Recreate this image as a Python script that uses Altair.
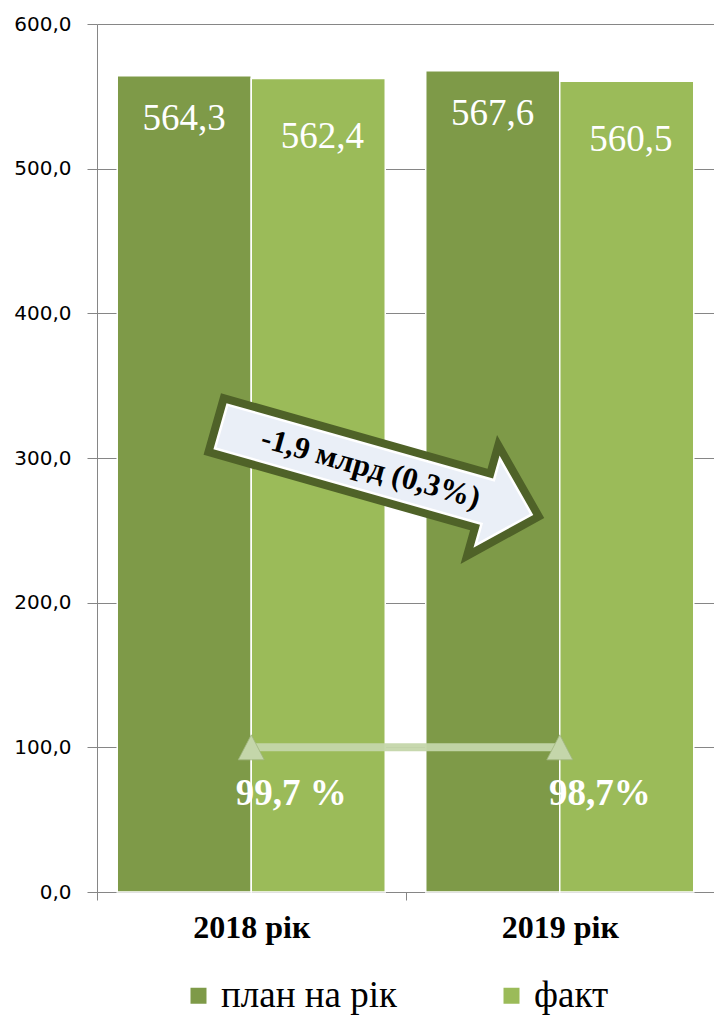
import math
import altair as alt
import pandas as pd

# ---------------- data ----------------
years = ["2018 рік", "2019 рік"]
series = ["план на рік", "факт"]
plan_values = [564.3, 567.6]
fact_values = [562.4, 560.5]
plan_labels = ["564,3", "567,6"]
fact_labels = ["562,4", "560,5"]
pct_labels = ["99,7 %", "98,7%"]
pct_level = [100, 100]
arrow_text = ["-1,9 млрд (0,3%)"]
arrow_level = [291]
y_ticks = [0, 100, 200, 300, 400, 500, 600]

colors = ["#7E9A48", "#9BBB59"]

rows = []
for i, yr in enumerate(years):
    rows.append({"year": yr, "series": series[0], "value": plan_values[i], "label": plan_labels[i]})
    rows.append({"year": yr, "series": series[1], "value": fact_values[i], "label": fact_labels[i]})
bars_df = pd.DataFrame(rows)
pct_df = pd.DataFrame({"year": years, "value": pct_level, "label": pct_labels})
arrow_df = pd.DataFrame({"year": [years[0]], "value": arrow_level, "label": arrow_text})

# ---------------- arrow symbol shape (pixel units, size=4) ----------------
HL = 172.5   # half length
T = 32.0     # shaft half thickness
H = 67.0     # head half width
HB = 104.5   # head base x
arrow_poly = [(-HL, -T), (HB, -T), (HB, -H), (HL, 0), (HB, H), (HB, T), (-HL, T)]


def inset(poly, d):
    n = len(poly)
    lines = []
    for i in range(n):
        p = poly[i]
        q = poly[(i + 1) % n]
        dx, dy = q[0] - p[0], q[1] - p[1]
        L = math.hypot(dx, dy)
        nx, ny = -dy / L, dx / L
        lines.append(((p[0] + nx * d, p[1] + ny * d), (dx, dy)))
    out = []
    for i in range(n):
        (p1, d1) = lines[i - 1]
        (p2, d2) = lines[i]
        det = -d1[0] * d2[1] + d1[1] * d2[0]
        t = ((p2[0] - p1[0]) * (-d2[1]) - (p2[1] - p1[1]) * (-d2[0])) / det
        out.append((p1[0] + t * d1[0], p1[1] + t * d1[1]))
    return out


def to_path(poly):
    return "M" + "L".join(f"{x:.2f},{y:.2f}" for x, y in poly) + "Z"


path_outer = to_path(arrow_poly)
path_white = to_path(inset(arrow_poly, 8))
path_inner = to_path(inset(arrow_poly, 10.5))
tri_path = "M-13,12.5L0,-12.5L13,12.5Z"
ARROW_ANGLE = 15.8
ARROW_DX = 127

# ---------------- encodings ----------------
x_enc = alt.X(
    "year:N",
    sort=years,
    scale=alt.Scale(paddingInner=0, paddingOuter=0),
    axis=alt.Axis(
        title=None,
        labelAngle=0,
        tickBand="extent",
        labelFont="Liberation Serif",
        labelFontSize=32,
        labelFontWeight="bold",
        labelColor="black",
        labelPadding=12,
        domainColor="#868686",
        tickColor="#868686",
        tickSize=8,
        grid=False,
    ),
)
y_enc = alt.Y(
    "value:Q",
    scale=alt.Scale(domain=[0, 600], nice=False, zero=True),
    axis=alt.Axis(
        title=None,
        values=y_ticks,
        labelExpr="replace(format(datum.value, '.1f'), '.', ',')",
        labelFont="DejaVu Sans",
        labelFontSize=20,
        labelColor="black",
        labelPadding=16,
        tickSize=10,
        tickColor="#868686",
        domainColor="#868686",
        gridColor="#868686",
        gridWidth=1,
        grid=True,
    ),
)
xoff = alt.XOffset("series:N", sort=series, scale=alt.Scale(paddingInner=0, paddingOuter=0.151))

bars = alt.Chart(bars_df).mark_bar(stroke="white", strokeWidth=1.5).encode(
    x=x_enc,
    y=y_enc,
    xOffset=xoff,
    color=alt.Color(
        "series:N",
        sort=series,
        scale=alt.Scale(domain=series, range=colors),
        legend=alt.Legend(
            title=None,
            orient="none",
            legendX=83,
            legendY=953,
            direction="horizontal",
            symbolType="square",
            symbolSize=256,
            symbolStrokeWidth=0,
            labelFont="Liberation Serif",
            labelFontSize=37,
            labelColor="black",
            labelLimit=0,
            labelOffset=4,
            columnPadding=96,
            padding=0,
        ),
    ),
)

plan_text = alt.Chart(bars_df).mark_text(
    font="Liberation Serif", fontSize=37, color="white", baseline="middle", dy=43
).encode(x="year:N", y="value:Q", xOffset=xoff, text="label:N").transform_filter(
    alt.datum.series == series[0]
)
fact_text = alt.Chart(bars_df).mark_text(
    font="Liberation Serif", fontSize=37, color="white", baseline="middle", dy=59, dx=4
).encode(x="year:N", y="value:Q", xOffset=xoff, text="label:N").transform_filter(
    alt.datum.series == series[1]
)

pct_line = alt.Chart(pct_df).mark_line(color="#C4D6AA", strokeWidth=8, opacity=0.95).encode(
    x="year:N", y="value:Q"
)
pct_tri = alt.Chart(pct_df).mark_point(
    shape=tri_path, size=4, filled=True, fill="#C4D6AA", stroke="#9FB57F",
    strokeWidth=0.8, opacity=1
).encode(x="year:N", y="value:Q")
pct_text = alt.Chart(pct_df).mark_text(
    font="Liberation Serif", fontSize=37, fontWeight="bold", color="white",
    baseline="middle", dy=47, xOffset=40
).encode(x="year:N", y="value:Q", text="label:N")

arrow_outer = alt.Chart(arrow_df).mark_point(
    shape=path_outer, size=4, filled=True, fill="#4F6228", strokeWidth=0,
    opacity=1, angle=ARROW_ANGLE, xOffset=ARROW_DX
).encode(x="year:N", y="value:Q")
arrow_white = alt.Chart(arrow_df).mark_point(
    shape=path_white, size=4, filled=True, fill="white", strokeWidth=0,
    opacity=1, angle=ARROW_ANGLE, xOffset=ARROW_DX
).encode(x="year:N", y="value:Q")
arrow_inner = alt.Chart(arrow_df).mark_point(
    shape=path_inner, size=4, filled=True, fill="#EAEFF7", strokeWidth=0,
    opacity=1, angle=ARROW_ANGLE, xOffset=ARROW_DX
).encode(x="year:N", y="value:Q")
arrow_label = alt.Chart(arrow_df).mark_text(
    font="Liberation Serif", fontSize=31, fontWeight="bold", color="black",
    baseline="middle", align="center", angle=ARROW_ANGLE, xOffset=ARROW_DX, dx=-8
).encode(x="year:N", y="value:Q", text="label:N")

chart = alt.layer(
    bars, plan_text, fact_text, pct_line, pct_tri, pct_text,
    arrow_outer, arrow_white, arrow_inner, arrow_label
).properties(
    width=617,
    height=868,
    padding={"left": 89, "top": 16, "right": 0, "bottom": 124},
    autosize=alt.AutoSizeParams(type="none"),
    background="white",
).configure_view(stroke=None).configure_legend(labelFont="Liberation Serif")

chart.save("out.html", embed_options={"renderer": "svg", "actions": False})
